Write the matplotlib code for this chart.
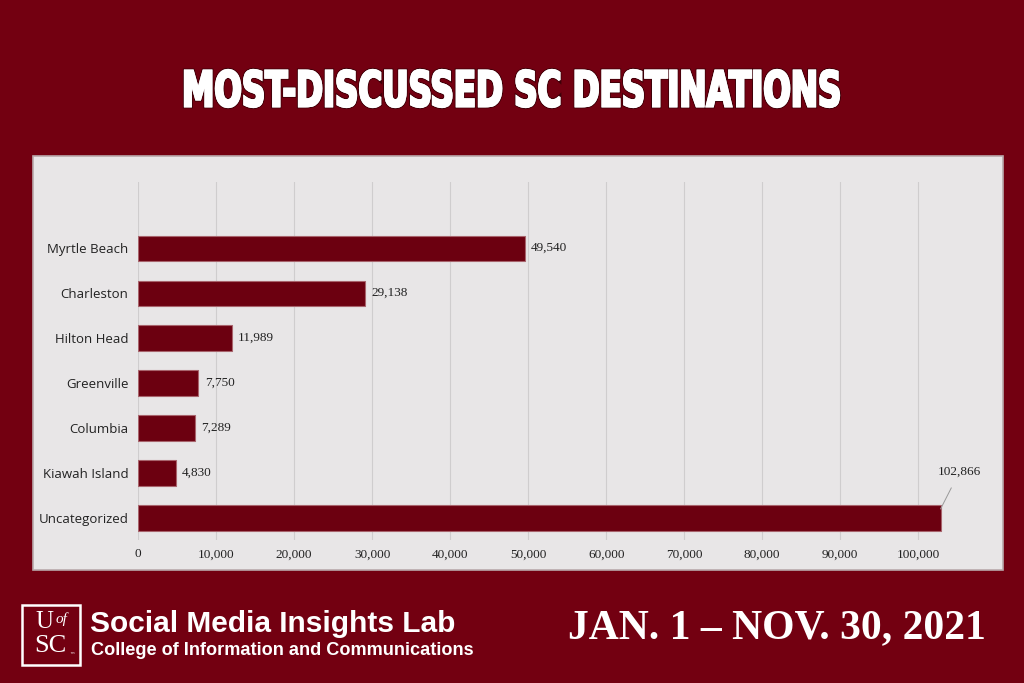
import matplotlib.pyplot as plt
from matplotlib.patches import Rectangle, PathPatch
from matplotlib.textpath import TextPath
from matplotlib.font_manager import FontProperties
from matplotlib.transforms import Affine2D, IdentityTransform
import matplotlib.patheffects as pe

# Datos del grafico
destinos = ["Myrtle Beach", "Charleston", "Hilton Head", "Greenville",
            "Columbia", "Kiawah Island", "Uncategorized"]
menciones = [49540, 29138, 11989, 7750, 7289, 4830, 102866]
ticksX = [0, 10000, 20000, 30000, 40000, 50000, 60000, 70000, 80000, 90000, 100000]
titulo = "MOST-DISCUSSED SC DESTINATIONS"

granate = "#730011"
barraColor = "#6c0010"
panelColor = "#e8e6e7"

fig = plt.figure(figsize=(10.24, 6.83), dpi=100)
fig.patch.set_facecolor(granate)

# Panel gris detras del grafico
panel = Rectangle((0.0322, 0.1654), 0.947, 0.606, transform=fig.transFigure,
                  facecolor=panelColor, edgecolor="#b9a9ab", linewidth=1.2, zorder=-10)
fig.patches.append(panel)

ax = fig.add_axes([0.1348, 0.2094, 0.80, 0.5241])
ax.set_facecolor("none")

# Posiciones: el primero arriba
posiciones = list(range(len(destinos) - 1, -1, -1))
ax.barh(posiciones, menciones, height=0.56, color=barraColor,
        edgecolor="#a8646c", linewidth=0.8, zorder=3)

ax.set_xlim(0, 105000)
ax.set_ylim(-0.49, 7.47)
ax.set_xticks(ticksX)
ax.set_xticklabels([f"{t:,}" for t in ticksX], family="Liberation Serif",
                   fontsize=9.5, color="#222222")
ax.set_yticks(posiciones)
ax.set_yticklabels(destinos, family="Open Sans", fontsize=9.5, color="#222222")
ax.tick_params(length=0, pad=6)
ax.tick_params(axis="y", pad=7)
ax.grid(axis="x", color="#cfcdce", linewidth=0.8, zorder=0)
for spine in ax.spines.values():
    spine.set_visible(False)

# Etiquetas de valor
for pos, valor in zip(posiciones, menciones):
    if valor > 100000:
        ax.annotate(f"{valor:,}", xy=(valor, pos + 0.2), xytext=(105300, pos + 1.03),
                    ha="center", va="center", family="Liberation Serif", fontsize=9.5,
                    color="#222222",
                    arrowprops=dict(arrowstyle="-", color="#999999", linewidth=0.7,
                                    shrinkA=6, shrinkB=0))
    else:
        ax.text(valor + 800, pos, f"{valor:,}", ha="left", va="center",
                family="Liberation Serif", fontsize=9.5, color="#222222")

# Titulo: letra condensada escalando el trazo del texto
fuente = FontProperties(family="DejaVu Sans", weight="black")
trazo = TextPath((0, 0), titulo, size=50, prop=fuente)
caja = trazo.get_extents()
anchoObjetivo, altoObjetivo = 654, 37
x0, yBase = 185, 683 - 107
escala = Affine2D().translate(-caja.x0, -caja.y0).scale(
    anchoObjetivo / caja.width, altoObjetivo / caja.height).translate(x0, yBase)
tituloPatch = PathPatch(escala.transform_path(trazo), facecolor="white",
                        edgecolor="white", linewidth=1.6,
                        transform=IdentityTransform(), zorder=5,
                        path_effects=[pe.withStroke(linewidth=3, foreground="#3d0008"),
                                      pe.Normal()])
fig.patches.append(tituloPatch)

# Logo UofSC
logo = Rectangle((0.0215, 0.026), 0.057, 0.088, transform=fig.transFigure,
                 facecolor="none", edgecolor="white", linewidth=1.8)
fig.patches.append(logo)
fig.text(0.043, 0.090, "U", ha="center", va="center", color="white",
         fontsize=18, family="Liberation Serif")
fig.text(0.060, 0.094, "of", ha="center", va="center", color="white",
         fontsize=11, family="Liberation Serif", style="italic")
fig.text(0.049, 0.054, "SC", ha="center", va="center", color="white",
         fontsize=19, family="Liberation Serif")
fig.text(0.070, 0.040, "\u2122", ha="center", va="center", color="white",
         fontsize=4, family="DejaVu Sans")

# Pie de pagina
fig.text(0.088, 0.087, "Social Media Insights Lab", ha="left", va="center",
         color="white", fontsize=21.5, fontweight="bold", family="Liberation Sans")
fig.text(0.089, 0.048, "College of Information and Communications", ha="left",
         va="center", color="white", fontsize=13.1, fontweight="bold",
         family="Liberation Sans")
fig.text(0.759, 0.080, "JAN. 1 \u2013 NOV. 30, 2021", ha="center", va="center",
         color="white", fontsize=30, fontweight="bold", family="Liberation Serif")

fig.savefig("out.png", dpi=100, facecolor=fig.get_facecolor())
